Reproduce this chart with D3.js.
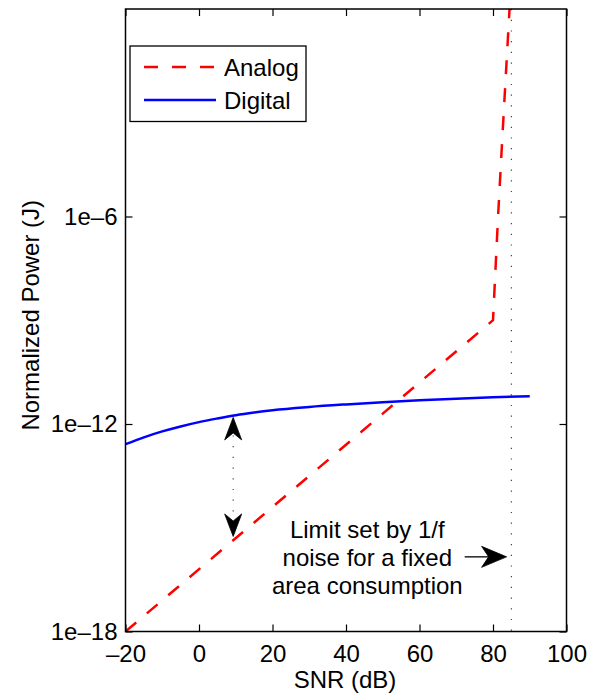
<!DOCTYPE html>
<html>
<head>
<meta charset="utf-8">
<script src="https://cdn.jsdelivr.net/npm/d3@7/dist/d3.min.js"></script>
<style>
  html, body { margin: 0; padding: 0; background: #fff; }
  svg text { font-family: "Liberation Sans", Arial, Helvetica, sans-serif; fill: #000; }
</style>
</head>
<body>
<svg id="chart" width="590" height="700"></svg>
<script>
// Power vs. SNR for analog and digital processing
const xTicks = [-20, 0, 20, 40, 60, 80, 100];
const xTickLabels = ["\u201320", "0", "20", "40", "60", "80", "100"];
const yTicks = [1e-18, 1e-12, 1e-6];
const yTickLabels = ["1e\u201318", "1e\u201312", "1e\u20136"];

// Analog: linear region then steep rise near the 1/f limit
const analogSNR   = [-20, 80, 81.4, 82.6, 84.5];
const analogPower = [1e-18, 1e-9, 1.1e-6, 2.5e-4, 1];

// Digital
const digitalSNR   = [-20, -15, -10, -5, 0, 5, 10, 15, 20, 30, 40, 50, 60, 70, 80, 90];
const digitalPower = [2.60e-13, 4.12e-13, 6.10e-13, 8.51e-13, 1.135e-12, 1.445e-12, 1.80e-12,
                      2.15e-12, 2.50e-12, 3.11e-12, 3.69e-12, 4.29e-12, 4.87e-12,
                      5.40e-12, 5.89e-12, 6.39e-12];

// 1/f noise limit
const limitSNR = 85;

// Gap arrow between the two curves, and the limit callout
const gapArrow = { snr: 9.3, top: 1.55e-12, bottom: 5.6e-16 };
const limitArrow = { from: 72.3, to: 83.7, power: 1.44e-16 };
const noteLines = ["Limit set by 1/f", "noise for a fixed", "area consumption"];
const noteAnchor = { snr: 45.8, power: 5.0e-16 };

const legendItems = [
  { name: "Analog", color: "#ff0000", dash: "14,14" },
  { name: "Digital", color: "#0000ff", dash: null }
];

const L = 125.5, R = 566.5, T = 9, B = 631.5;
const fs = 24;

const svg = d3.select("#chart");
const x = d3.scaleLinear().domain([-20, 100]).range([L, R]);
const y = d3.scaleLog().domain([1e-18, 1]).range([B, T]);

svg.append("defs").append("clipPath").attr("id", "plotClip")
  .append("rect").attr("x", L).attr("y", T).attr("width", R - L).attr("height", B - T);

const plot = svg.append("g").attr("clip-path", "url(#plotClip)");

// Vertical dotted limit line
plot.append("line")
  .attr("x1", x(limitSNR)).attr("x2", x(limitSNR))
  .attr("y1", T).attr("y2", B)
  .attr("stroke", "#333").attr("stroke-width", 1.1)
  .attr("stroke-dasharray", "1.2,9.5");

const digitalLine = d3.line().x(d => x(d[0])).y(d => y(d[1])).curve(d3.curveMonotoneX);
const analogLine = d3.line().x(d => x(d[0])).y(d => y(d[1]));

plot.append("path")
  .datum(digitalSNR.map((s, i) => [s, digitalPower[i]]))
  .attr("d", digitalLine)
  .attr("fill", "none").attr("stroke", "#0000ff").attr("stroke-width", 2.5);

plot.append("path")
  .datum(analogSNR.map((s, i) => [s, analogPower[i]]))
  .attr("d", analogLine)
  .attr("fill", "none").attr("stroke", "#ff0000").attr("stroke-width", 2.5)
  .attr("stroke-dasharray", "14,14");

// Arrowhead with a notched back
function arrowHead(g, tx, ty, dx, dy, len, hw, notch) {
  const px = -dy, py = dx;
  const bx = tx - dx * len, by = ty - dy * len;
  const nx = tx - dx * notch, ny = ty - dy * notch;
  g.append("path")
    .attr("d", `M${tx},${ty}L${bx + px * hw},${by + py * hw}L${nx},${ny}L${bx - px * hw},${by - py * hw}Z`)
    .attr("fill", "#000").attr("stroke", "#000").attr("stroke-width", 0.8).attr("stroke-linejoin", "miter");
}

const ann = svg.append("g");
const gx = x(gapArrow.snr), gTop = y(gapArrow.top), gBot = y(gapArrow.bottom);
ann.append("line")
  .attr("x1", gx).attr("x2", gx).attr("y1", gTop + 18).attr("y2", gBot - 14)
  .attr("stroke", "#333").attr("stroke-width", 1.1).attr("stroke-dasharray", "1.2,9.5");
arrowHead(ann, gx, gTop, 0, -1, 22.5, 8.5, 15.5);
arrowHead(ann, gx, gBot, 0, 1, 22.5, 8.5, 15.5);

const ly = y(limitArrow.power);
ann.append("line")
  .attr("x1", x(limitArrow.from)).attr("x2", x(limitArrow.to) - 16)
  .attr("y1", ly).attr("y2", ly)
  .attr("stroke", "#000").attr("stroke-width", 1.3);
arrowHead(ann, x(limitArrow.to), ly, 1, 0, 25, 10.5, 18);

ann.append("text")
  .attr("x", x(noteAnchor.snr)).attr("y", y(noteAnchor.power))
  .attr("text-anchor", "middle").attr("font-size", fs)
  .selectAll("tspan").data(noteLines).join("tspan")
  .attr("x", x(noteAnchor.snr))
  .attr("dy", (d, i) => i === 0 ? 0 : 27.8)
  .text(d => d);

// Axes (inward ticks on all four sides)
const tick = 7;
const ax = svg.append("g");
ax.append("g").attr("transform", `translate(0,${B})`)
  .call(d3.axisBottom(x).tickValues(xTicks).tickFormat((d, i) => xTickLabels[i])
    .tickSize(-tick).tickSizeOuter(0).tickPadding(13));
ax.append("g").attr("transform", `translate(${L},0)`)
  .call(d3.axisLeft(y).tickValues(yTicks).tickFormat((d, i) => yTickLabels[i])
    .tickSize(-tick).tickSizeOuter(0).tickPadding(8));
ax.append("g").attr("transform", `translate(0,${T})`)
  .call(d3.axisTop(x).tickValues(xTicks).tickFormat("").tickSize(-tick).tickSizeOuter(0));
ax.append("g").attr("transform", `translate(${R},0)`)
  .call(d3.axisRight(y).tickValues(yTicks).tickFormat("").tickSize(-tick).tickSizeOuter(0));

ax.selectAll(".domain").remove();
ax.selectAll(".tick line").attr("stroke", "#000").attr("stroke-width", 1.2);
ax.selectAll(".tick text").attr("font-size", fs)
  .attr("font-family", "'Liberation Sans', Arial, sans-serif").attr("fill", "#000");

svg.append("rect")
  .attr("x", L).attr("y", T).attr("width", R - L).attr("height", B - T)
  .attr("fill", "none").attr("stroke", "#000").attr("stroke-width", 1.5);

// Axis titles
svg.append("text")
  .attr("x", (L + R) / 2 - 1).attr("y", 688)
  .attr("text-anchor", "middle").attr("font-size", fs)
  .text("SNR (dB)");
svg.append("text")
  .attr("transform", `translate(38.5,${(T + B) / 2 - 5}) rotate(-90)`)
  .attr("text-anchor", "middle").attr("font-size", fs)
  .text("Normalized Power (J)");

// Legend
const lg = svg.append("g");
lg.append("rect").attr("x", 130).attr("y", 46).attr("width", 176).attr("height", 75.5)
  .attr("fill", "#fff").attr("stroke", "#000").attr("stroke-width", 1.3);
legendItems.forEach((it, i) => {
  const cy = 67 + i * 33;
  lg.append("line").attr("x1", 144).attr("x2", 216).attr("y1", cy).attr("y2", cy)
    .attr("stroke", it.color).attr("stroke-width", 2.5)
    .attr("stroke-dasharray", it.dash);
  lg.append("text").attr("x", 224).attr("y", cy + 9).attr("font-size", fs).text(it.name);
});
</script>
</body>
</html>
